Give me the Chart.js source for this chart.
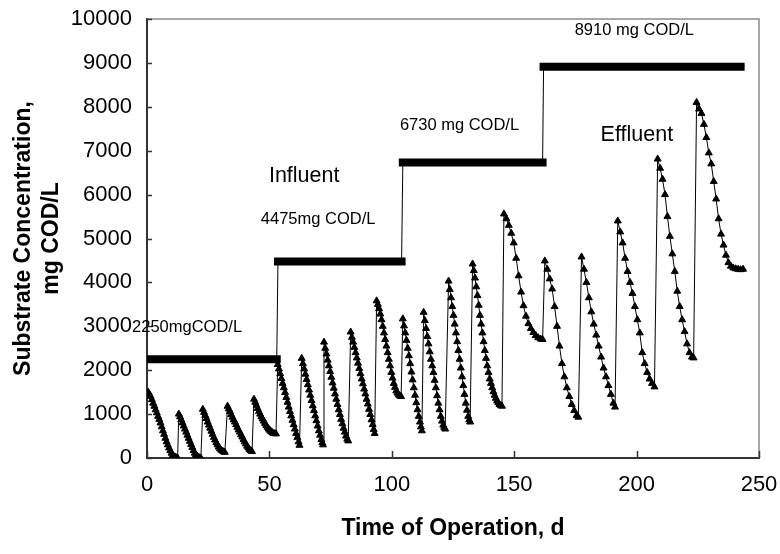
<!DOCTYPE html>
<html>
<head>
<meta charset="utf-8">
<title>Substrate Concentration vs Time of Operation</title>
<script src="https://cdn.jsdelivr.net/npm/chart.js@4.4.0/dist/chart.umd.min.js"></script>
<style>
  html, body { margin: 0; padding: 0; background: #fff; }
  #wrap { width: 780px; height: 554px; }
</style>
</head>
<body>
<div id="wrap"><canvas id="chart" width="780" height="554"></canvas></div>
<script>
// -------------------------
// Datos
// -------------------------
const xTicks = [0, 50, 100, 150, 200, 250];
const yTicks = [0, 1000, 2000, 3000, 4000, 5000, 6000, 7000, 8000, 9000, 10000];

// influente: cuatro etapas (dia, mg COD/L)
const influentDays   = [1, 53, 53.5, 104, 104.5, 161.6, 162, 242.5];
const influentValues = [2250, 2250, 4475, 4475, 6730, 6730, 8910, 8910];

// efluente: ciclos de alimentacion (dia, mg COD/L)
const effluentDays = [
  0.5, 1, 1.5, 2, 2.5, 3, 3.5, 4, 4.5, 5, 5.5, 6, 6.5, 7, 7.5, 8, 8.5, 9, 9.5, 10, 10.5, 11, 11.5, 12, 12.5,
  13, 13.5, 14, 14.5, 15, 15.5, 16, 16.5, 17, 17.5, 18, 18.5, 19, 19.5, 20, 20.5, 21, 21.5, 22,
  22.8, 23.3, 23.8, 24.3, 24.8, 25.3, 25.8, 26.3, 26.8, 27.3, 27.8, 28.3, 28.8, 29.3, 29.8, 30.3, 30.8, 31.3, 31.8,
  32.9, 33.4, 33.9, 34.4, 34.9, 35.4, 35.9, 36.4, 36.9, 37.4, 37.9, 38.4, 38.9, 39.4, 39.9, 40.4, 40.9, 41.4, 41.9, 42.4, 42.9,
  43.7, 44.2, 44.7, 45.2, 45.7, 46.2, 46.7, 47.2, 47.7, 48.2, 48.7, 49.2, 49.7, 50.2, 50.7, 51.2, 51.7, 52.2, 52.7,
  53.4, 53.9, 54.4, 54.9, 55.4, 55.9, 56.4, 56.9, 57.4, 57.9, 58.4, 58.9, 59.4, 59.9, 60.4, 60.9, 61.4, 61.9, 62.3,
  63.2, 63.7, 64.2, 64.7, 65.2, 65.7, 66.2, 66.7, 67.2, 67.7, 68.2, 68.7, 69.2, 69.7, 70.2, 70.7, 71.2, 71.6, 71.9,
  72.3, 72.8, 73.3, 73.8, 74.3, 74.8, 75.3, 75.8, 76.3, 76.8, 77.3, 77.8, 78.3, 78.8, 79.3, 79.8, 80.3, 80.8, 81.3, 81.8, 82.2,
  83.2, 83.7, 84.2, 84.7, 85.2, 85.7, 86.2, 86.7, 87.2, 87.7, 88.2, 88.7, 89.2, 89.7, 90.2, 90.7, 91.2, 91.7, 92.2, 92.6, 93,
  93.8, 94.3, 94.8, 95.3, 95.8, 96.3, 96.8, 97.3, 97.8, 98.3, 98.8, 99.3, 99.8, 100.3, 100.8, 101.3, 101.8, 102.3, 102.8, 103.3, 103.8,
  104.5, 105, 105.5, 106, 106.5, 107, 107.5, 108, 108.5, 109, 109.5, 110, 110.5, 111, 111.5, 111.9, 112.3,
  113, 113.5, 114, 114.5, 115, 115.5, 116, 116.5, 117, 117.5, 118, 118.5, 119, 119.5, 120, 120.5, 121, 121.4, 121.8,
  123.2, 123.7, 124.2, 124.7, 125.2, 125.7, 126.2, 126.7, 127.2, 127.7, 128.2, 128.7, 129.2, 129.7, 130.2, 130.7, 131.2, 131.6, 132,
  133, 133.5, 134, 134.5, 135, 135.5, 136, 136.5, 137, 137.5, 138, 138.5, 139, 139.5, 140, 140.5, 141, 141.5, 142, 142.5, 143, 143.5, 144, 144.5, 145,
  145.8, 146.8, 147.8, 148.8, 149.8, 150.8, 151.8, 152.8, 153.8, 154.8, 155.8, 156.8, 157.8, 158.8, 159.8, 160.8, 161.6,
  162.5, 163.5, 164.5, 165.5, 166.5, 167.5, 168.5, 169.5, 170.5, 171.5, 172.5, 173.5, 174.5, 175.5, 176.2,
  177.5, 178.5, 179.5, 180.5, 181.5, 182.5, 183.5, 184.5, 185.5, 186.5, 187.5, 188.5, 189.5, 190.5, 191.2,
  192.3, 193.3, 194.3, 195.3, 196.3, 197.3, 198.3, 199.3, 200.3, 201.3, 202.3, 203.3, 204.3, 205.3, 206.3, 207.3,
  208.6, 209.6, 210.6, 211.6, 212.6, 213.6, 214.6, 215.6, 216.6, 217.6, 218.6, 219.6, 220.6, 221.6, 222.6, 223.3,
  224.5, 225.5, 226.5, 227.5, 228.5, 229.5, 230.5, 231.5, 232.5, 233.5, 234.5, 235.5, 236.5, 237.5, 238.5, 239.5, 240.5, 241.5, 242.5, 243.5
];
const effluentValues = [
  1500, 1450, 1400, 1330, 1250, 1180, 1100, 1030, 950, 880, 800, 710, 620, 540, 450, 370, 300, 230, 170, 110, 60, 35, 20, 5, 0,
  1000, 940, 870, 800, 730, 660, 590, 520, 450, 380, 310, 240, 170, 110, 70, 40, 20, 5, 0,
  1110, 1040, 970, 900, 820, 750, 680, 610, 540, 470, 410, 350, 300, 250, 210, 180, 160, 140, 130,
  1180, 1120, 1060, 990, 930, 870, 820, 760, 700, 640, 590, 530, 480, 420, 370, 320, 270, 230, 190, 165, 150,
  1340, 1270, 1200, 1130, 1060, 1000, 940, 890, 840, 790, 740, 700, 660, 630, 600, 580, 560, 555, 550,
  2130, 2030, 1920, 1810, 1700, 1600, 1490, 1380, 1270, 1160, 1060, 960, 860, 760, 660, 560, 470, 370, 290,
  2270, 2150, 2030, 1910, 1790, 1670, 1550, 1430, 1310, 1190, 1080, 960, 850, 730, 620, 520, 420, 350, 300,
  2640, 2500, 2370, 2230, 2100, 1970, 1840, 1710, 1590, 1460, 1340, 1220, 1100, 990, 880, 780, 680, 590, 500, 430, 390,
  2870, 2750, 2640, 2520, 2400, 2280, 2160, 2040, 1920, 1800, 1690, 1570, 1460, 1340, 1230, 1110, 990, 870, 760, 650, 560,
  3580, 3500, 3400, 3280, 3150, 3000, 2850, 2700, 2550, 2400, 2250, 2100, 1950, 1820, 1700, 1610, 1530, 1480, 1440, 1415, 1400,
  3170, 3010, 2850, 2680, 2500, 2330, 2150, 1960, 1780, 1600, 1430, 1260, 1100, 950, 820, 710, 620,
  3320, 3130, 2950, 2770, 2600, 2420, 2250, 2100, 1950, 1770, 1600, 1420, 1250, 1100, 950, 840, 750, 700, 660,
  4030, 3840, 3650, 3450, 3250, 3050, 2850, 2650, 2450, 2250, 2050, 1850, 1650, 1450, 1250, 1090, 950, 870, 820,
  4420, 4270, 4100, 3900, 3700, 3480, 3250, 3050, 2850, 2650, 2450, 2270, 2100, 1950, 1800, 1700, 1600, 1510, 1430, 1360, 1300, 1260, 1220, 1200, 1180,
  5560, 5450, 5300, 5120, 4900, 4550, 4150, 3780, 3470, 3230, 3060, 2950, 2860, 2790, 2740, 2710, 2700,
  4490, 4300, 4080, 3850, 3450, 3000, 2550, 2150, 1850, 1600, 1400, 1220, 1080, 970, 930,
  4580, 4300, 4000, 3650, 3330, 3050, 2800, 2550, 2300, 2050, 1850, 1650, 1450, 1250, 1160,
  5400, 5150, 4900, 4550, 4250, 4000, 3750, 3450, 3150, 2850, 2400, 2150, 1950, 1800, 1700, 1620,
  6810, 6600, 6350, 6000, 5500, 5050, 4650, 4250, 3800, 3450, 3150, 2880, 2600, 2400, 2300, 2280,
  8100, 7950, 7850, 7600, 7300, 6950, 6700, 6300, 5900, 5450, 5100, 4850, 4620, 4450, 4370, 4330, 4310, 4300, 4290, 4300
];

// textos sobre el grafico (posicion en unidades de datos)
const notes = [
  { text: "2250mgCOD/L",   day: -6.1,  val: 2880, size: 16.5 },
  { text: "Influent",      day: 49.8,  val: 6280, size: 21.5 },
  { text: "4475mg COD/L",  day: 46.5,  val: 5320, size: 16.5 },
  { text: "6730 mg COD/L", day: 103.3, val: 7480, size: 16.5 },
  { text: "8910 mg COD/L", day: 174.7, val: 9640, size: 16.5 },
  { text: "Effluent",      day: 185.3, val: 7230, size: 21.5 }
];

const FONT = "'Liberation Sans', Arial, sans-serif";

// -------------------------
// Plugin: marco, ticks internos y textos
// -------------------------
const decorPlugin = {
  id: "decor",
  afterDraw(chart) {
    const ctx = chart.ctx;
    const a = chart.chartArea;
    const xs = chart.scales.x, ys = chart.scales.y;
    ctx.save();
    // marco superior y derecho (gris)
    ctx.strokeStyle = "#8a8a8a";
    ctx.lineWidth = 1.5;
    ctx.beginPath();
    ctx.moveTo(a.left, a.top);
    ctx.lineTo(a.right, a.top);
    ctx.lineTo(a.right, a.bottom);
    ctx.stroke();
    // ticks hacia adentro
    ctx.strokeStyle = "#333";
    ctx.lineWidth = 1.5;
    ctx.beginPath();
    yTicks.forEach(v => {
      const y = Math.round(ys.getPixelForValue(v)) + 0.5;
      ctx.moveTo(a.left, y); ctx.lineTo(a.left + 5, y);
    });
    xTicks.forEach(v => {
      const x = Math.round(xs.getPixelForValue(v)) + 0.5;
      ctx.moveTo(x, a.bottom); ctx.lineTo(x, a.bottom - 7);
    });
    ctx.stroke();
    // anotaciones
    ctx.fillStyle = "#000";
    ctx.textBaseline = "alphabetic";
    ctx.textAlign = "left";
    notes.forEach(n => {
      ctx.font = n.size + "px " + FONT;
      ctx.fillText(n.text, xs.getPixelForValue(n.day), ys.getPixelForValue(n.val));
    });
    ctx.restore();
  }
};

// -------------------------
// Grafico
// -------------------------
const influentPts = influentDays.map((d, i) => ({ x: d, y: influentValues[i] }));
const effluentPts = effluentDays.map((d, i) => ({ x: d, y: effluentValues[i] }));
const flat = c => c.p0.parsed.y === c.p1.parsed.y;

new Chart(document.getElementById("chart"), {
  type: "line",
  data: {
    datasets: [
      {
        label: "Influent",
        data: influentPts,
        borderColor: "#000",
        borderWidth: 1,
        pointRadius: 0,
        tension: 0,
        segment: {
          borderWidth: c => flat(c) ? 8 : 1,
          borderCapStyle: c => flat(c) ? "square" : "butt"
        }
      },
      {
        label: "Effluent",
        data: effluentPts,
        borderColor: "#000",
        borderWidth: 1,
        backgroundColor: "#000",
        pointStyle: "triangle",
        pointRadius: 4,
        pointBorderWidth: 1,
        pointBackgroundColor: "#000",
        pointBorderColor: "#000",
        tension: 0
      }
    ]
  },
  options: {
    responsive: false,
    animation: false,
    events: [],
    layout: { padding: { top: 19, right: 21, left: 0, bottom: 0 } },
    plugins: { legend: { display: false }, tooltip: { enabled: false } },
    scales: {
      x: {
        type: "linear",
        min: 0, max: 250,
        afterBuildTicks: s => { s.ticks = xTicks.map(v => ({ value: v })); },
        afterFit: s => { s.height = 96; },
        grid: { display: true, drawOnChartArea: false, drawTicks: true, tickLength: 14, tickColor: "rgba(0,0,0,0)" },
        border: { display: true, color: "#333", width: 2 },
        ticks: { color: "#000", padding: 0, font: { family: FONT, size: 22 }, callback: v => String(v) },
        title: {
          display: true,
          text: "Time of Operation, d",
          color: "#000",
          padding: { top: 0, bottom: 12 },
          font: { family: FONT, size: 23, weight: "bold" }
        }
      },
      y: {
        type: "linear",
        min: 0, max: 10000,
        afterBuildTicks: s => { s.ticks = yTicks.map(v => ({ value: v })); },
        afterFit: s => { s.width = 147; },
        grid: { display: true, drawOnChartArea: false, drawTicks: true, tickLength: 15, tickColor: "rgba(0,0,0,0)" },
        border: { display: true, color: "#333", width: 2 },
        ticks: { color: "#000", padding: 0, font: { family: FONT, size: 22 }, callback: v => String(v) },
        title: {
          display: true,
          text: ["Substrate Concentration,", "mg COD/L"],
          color: "#000",
          padding: { top: 10, bottom: 0 },
          font: { family: FONT, size: 23, weight: "bold", lineHeight: 1.2 }
        }
      }
    }
  },
  plugins: [decorPlugin]
});
</script>
</body>
</html>
